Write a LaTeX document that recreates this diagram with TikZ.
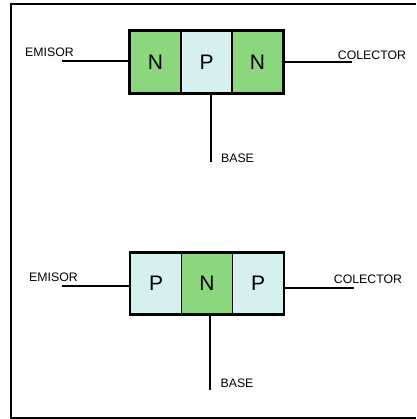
\documentclass[tikz,border=0pt]{standalone}
\usepackage{fontspec}
\setmainfont{Liberation Sans}
\definecolor{ngreen}{HTML}{8CD67E}
\definecolor{pcyan}{HTML}{D6EFEF}
\begin{document}
\begin{tikzpicture}[x=1pt,y=-1pt,
  cell/.style={draw=black,line width=1.8pt,minimum width=51pt,minimum height=62pt,inner sep=0pt,font=\fontsize{21}{21}\selectfont},
  ncell/.style={cell,fill=ngreen},
  pcell/.style={cell,fill=pcyan},
  lbl/.style={inner sep=0pt,font=\fontsize{12.3}{13}\selectfont},
  wire/.style={line width=1.4pt},
  frame/.style={line width=1.5pt}]
\useasboundingbox (0,0) rectangle (416,419);
% frame
\coordinate (ft) at (416,4);
\coordinate (ftl) at (11,4);
\coordinate (fbl) at (11,418);
\coordinate (fb) at (416,418);
\draw[frame] (ft) -- (ftl) -- (fbl) -- (fb);

% NPN
\node[ncell] (a1) at (155.5,62) {N};
\node[pcell] (a2) at (206.5,62) {P};
\node[ncell] (a3) at (257.5,62) {N};
\draw[line width=1.8pt] (a1.north west) rectangle (a3.south east);
\coordinate (ae) at (62,61);
\coordinate (ac) at (352,62);
\coordinate (ab) at (211,162);
\draw[wire] (ae) -- (a1.west |- ae);
\draw[wire] (a3.east |- ac) -- (ac);
\draw[wire] (a2.south -| ab) -- (ab);
\node[lbl] (ael) at (49.5,52) {EMISOR};
\node[lbl] (acl) at (372,55) {COLECTOR};
\node[lbl] (abl) at (237.5,158) {BASE};

% PNP
\node[pcell,minimum height=61pt] (b1) at (156,283.5) {P};
\node[ncell,minimum height=61pt] (b2) at (207,283.5) {N};
\node[pcell,minimum height=61pt] (b3) at (258,283.5) {P};
\draw[line width=1.8pt] (b1.north west) rectangle (b3.south east);
\coordinate (be) at (62,286);
\coordinate (bc) at (354,288);
\coordinate (bb) at (210,390);
\draw[wire] (be) -- (b1.west |- be);
\draw[wire] (b3.east |- bc) -- (bc);
\draw[wire] (b2.south -| bb) -- (bb);
\node[lbl] (bel) at (53.5,277) {EMISOR};
\node[lbl] (bcl) at (368,279) {COLECTOR};
\node[lbl] (bbl) at (237,383) {BASE};
\end{tikzpicture}
\end{document}
